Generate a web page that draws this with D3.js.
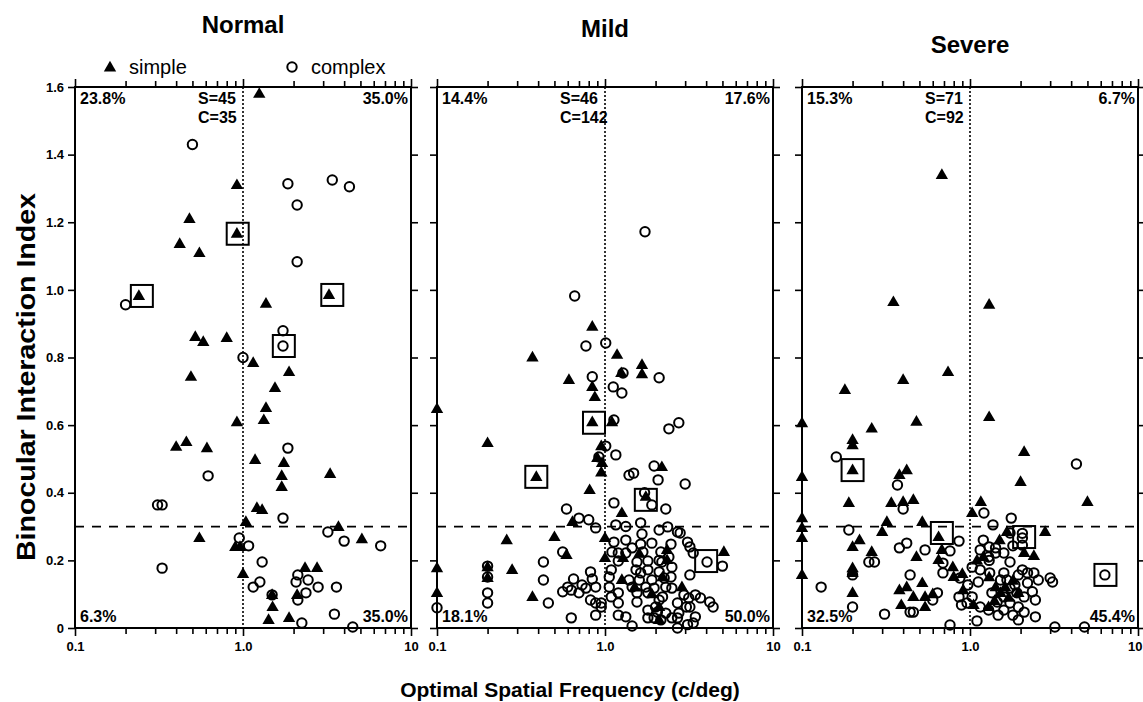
<!DOCTYPE html>
<html lang="en">
<head>
<meta charset="utf-8">
<title>Binocular interaction vs spatial frequency</title>
<script src="https://d3js.org/d3.v7.min.js"></script>
<style>
  body { margin: 0; background: #fff; }
  text { font-family: "Liberation Sans", Arial, Helvetica, sans-serif; }
</style>
</head>
<body>
<script>
// panel info
var panelTitles = ["Normal", "Mild", "Severe"];
var simpleCounts = ["S=45", "S=46", "S=71"];
var complexCounts = ["C=35", "C=142", "C=92"];
var pctTopLeft = ["23.8%", "14.4%", "15.3%"];
var pctTopRight = ["35.0%", "17.6%", "6.7%"];
var pctBottomLeft = ["6.3%", "18.1%", "32.5%"];
var pctBottomRight = ["35.0%", "50.0%", "45.4%"];

// axis ticks
var yTicks = [0, 0.2, 0.4, 0.6, 0.8, 1.0, 1.2, 1.4, 1.6];
var yTickLabels = ["0", "0.2", "0.4", "0.6", "0.8", "1.0", "1.2", "1.4", "1.6"];
var xMajorTicks = [0.1, 1, 10];
var xTickLabels = ["0.1", "1.0", "10"];
var xMinorTicks = [0.2, 0.3, 0.4, 0.5, 0.6, 0.7, 0.8, 0.9, 2, 3, 4, 5, 6, 7, 8, 9];

// [optimal SF (c/deg), binocular interaction index]
var normalSimple = [[1.25,1.58],[0.92,1.31],[0.48,1.21],[0.92,1.166],[0.42,1.136],[0.55,1.109],[0.24,0.982],[1.37,0.959],
  [3.25,0.985],[0.52,0.861],[0.58,0.846],[0.8,0.858],[1.15,0.784],[0.49,0.743],[1.88,0.757],[1.55,0.71],[1.37,0.651],
  [1.33,0.615],[0.92,0.609],[0.4,0.536],[0.46,0.55],[0.61,0.532],[1.18,0.497],[1.75,0.488],[3.3,0.456],[1.7,0.45],
  [1.7,0.417],[1.21,0.355],[1.3,0.349],[1.04,0.314],[3.7,0.299],[5.1,0.263],[0.55,0.266],[0.9,0.24],[0.96,0.24],
  [1.0,0.16],[2.34,0.178],[2.76,0.178],[2.1,0.098],[1.49,0.098],[1.5,0.062],[1.42,0.024],[1.88,0.03]];
var normalComplex = [[0.5,1.43],[1.85,1.314],[3.4,1.325],[4.3,1.305],[2.1,1.251],[2.1,1.083],[0.2,0.956],[1.73,0.879],
  [1.73,0.834],[1.0,0.80],[1.85,0.532],[0.62,0.45],[0.31,0.364],[0.33,0.364],[1.73,0.325],[3.2,0.284],[4.0,0.257],
  [6.6,0.243],[0.95,0.266],[1.08,0.243],[0.33,0.177],[1.3,0.195],[1.15,0.121],[1.26,0.136],[2.12,0.157],[2.07,0.136],
  [2.44,0.142],[2.37,0.104],[2.12,0.083],[2.8,0.121],[3.6,0.121],[1.49,0.098],[2.24,0.015],[3.5,0.041],[4.5,0.003]];
var normalBoxes = [[0.93,1.166],[0.25,0.982],[3.4,0.985],[1.75,0.834]];

var mildSimple = [[0.84,0.891],[1.18,0.808],[0.37,0.80],[1.66,0.778],[1.66,0.751],[0.61,0.734],[1.25,0.754],[0.84,0.713],
  [0.87,0.683],[0.1,0.648],[0.2,0.547],[0.84,0.609],[1.1,0.609],[0.95,0.538],[0.9,0.503],[0.96,0.488],[2.18,0.476],
  [0.39,0.447],[0.81,0.408],[1.75,0.388],[1.26,0.34],[0.64,0.314],[0.26,0.26],[0.5,0.269],[1.0,0.266],[0.59,0.216],
  [1.0,0.207],[1.28,0.207],[2.34,0.231],[2.34,0.201],[5.1,0.225],[0.1,0.177],[0.2,0.18],[0.2,0.148],[0.28,0.172],
  [0.1,0.104],[0.37,0.092],[2.87,0.121],[2.1,0.024],[1.26,0.142],[2.1,0.062],[1.6,0.22],[1.9,0.1],[2.2,0.15],
  [0.95,0.46],[1.5,0.12]];
var mildComplex = [[1.73,1.172],[0.66,0.982],[0.77,0.834],[1.01,0.843],
  [0.84,0.743],[1.28,0.754],[2.1,0.74],[1.12,0.713],[1.26,0.695],[1.13,0.615],[2.4,0.589],[2.75,0.607],
  [1.01,0.538],[1.16,0.512],[0.92,0.506],[1.96,0.479],[1.39,0.452],[1.48,0.458],[2.07,0.438],[3.0,0.426],
  [1.72,0.40],[1.13,0.37],[1.9,0.364],[2.3,0.352],[0.59,0.352],[0.7,0.325],[0.8,0.32],[0.88,0.296],[1.16,0.305],
  [1.63,0.311],[1.66,0.278],[2.1,0.29],[2.36,0.299],[2.7,0.284],[2.8,0.281],[3.1,0.254],[3.35,0.222],[4.05,0.195],
  [5.0,0.183],[1.33,0.26],[1.63,0.248],[2.47,0.248],[1.1,0.225],[1.33,0.222],[1.68,0.225],[0.56,0.225],[0.43,0.195],
  [1.2,0.198],[1.55,0.195],[1.8,0.198],[2.18,0.195],[3.2,0.157],
  [0.2,0.183],[0.2,0.151],[0.2,0.104],[0.2,0.074],[0.43,0.142],[0.65,0.145],[0.6,0.121],[0.56,0.107],[0.82,0.166],
  [0.84,0.145],[0.73,0.127],[0.77,0.118],[0.88,0.121],[1.06,0.151],[1.06,0.121],[1.2,0.104],[1.2,0.074],[1.39,0.142],
  [1.45,0.121],[1.55,0.104],[1.63,0.163],[1.75,0.121],[1.8,0.104],[1.9,0.142],[1.96,0.118],[2.25,0.148],[2.3,0.121],
  [2.47,0.151],[2.1,0.083],[2.0,0.062],[2.7,0.074],[2.75,0.044],[2.95,0.098],[3.2,0.062],[3.45,0.098],[3.7,0.089],
  [4.4,0.062],[0.95,0.074],[0.95,0.062],[0.88,0.038],[0.82,0.083],[0.46,0.074],[0.63,0.03],[1.2,0.038],[1.33,0.033],
  [1.45,0.006],[1.8,0.03],[1.96,0.03],[2.15,0.024],[2.7,0.03],[2.7,0.0],[3.1,0.01],[3.35,0.015],[3.45,0.033],
  [0.1,0.06],[2.1,0.2],[2.4,0.21],[1.33,0.3],[3.2,0.24],
  [1.13,0.254],[1.2,0.222],[1.45,0.237],[1.9,0.251],[2.15,0.225],[1.8,0.172],[2.1,0.166],[2.5,0.18],[1.09,0.172],
  [1.53,0.172],[1.6,0.142],[2.5,0.118],[2.2,0.092],[1.55,0.077],[1.8,0.053],[2.05,0.047],[2.3,0.044],[3.05,0.062],
  [2.5,0.03],[1.09,0.092],[0.7,0.104],[0.63,0.112],[0.88,0.074],[3.15,0.089],[4.2,0.077]];
var mildBoxes = [[0.86,0.607],[0.39,0.447],[1.75,0.379],[4.0,0.198]];

var severeSimple = [[0.68,1.34],[0.35,0.964],[1.3,0.956],[0.18,0.704],[0.4,0.734],[0.74,0.757],[0.1,0.606],[0.26,0.59],
  [0.48,0.61],[1.3,0.624],[0.2,0.556],[0.2,0.541],[2.1,0.521],[0.2,0.467],[0.1,0.447],[0.38,0.453],[0.42,0.467],
  [2.0,0.432],[0.19,0.37],[0.34,0.37],[0.4,0.373],[0.46,0.379],[1.16,0.373],[5.0,0.373],[0.1,0.325],[0.1,0.296],
  [0.1,0.266],[0.32,0.314],[0.52,0.314],[1.03,0.34],[0.3,0.284],[0.22,0.26],[0.2,0.24],[0.65,0.269],[0.68,0.231],
  [1.66,0.284],[2.8,0.284],[2.1,0.222],[2.4,0.213],[0.48,0.21],[0.65,0.201],[0.26,0.225],[0.2,0.177],[0.2,0.163],
  [0.1,0.157],[0.2,0.104],[0.79,0.18],[0.8,0.151],[0.38,0.112],[0.42,0.121],[0.46,0.092],[0.52,0.133],[0.54,0.092],
  [0.39,0.068],[0.54,0.062],[0.91,0.112],[1.05,0.068],[1.29,0.062],[1.42,0.121],[1.52,0.104],[1.62,0.121],
  [1.94,0.104],[1.2,0.21],[1.4,0.08],[1.7,0.09],[1.8,0.14],[1.1,0.2],[1.5,0.26],[0.9,0.16],[1.3,0.15],[0.6,0.1]];
var severeComplex = [[0.16,0.506],[4.3,0.485],[0.37,0.423],[0.4,0.352],[1.21,0.34],[0.19,0.29],[1.37,0.305],[1.76,0.325],
  [2.05,0.266],[2.05,0.245],[0.42,0.251],[0.38,0.237],[0.54,0.231],[0.76,0.228],[0.86,0.257],[0.25,0.195],[0.27,0.195],
  [1.2,0.26],[1.15,0.231],[1.3,0.24],[1.42,0.237],[1.29,0.21],[1.3,0.2],[1.03,0.18],[1.15,0.172],[1.73,0.195],
  [1.8,0.243],[0.69,0.163],[0.87,0.148],[0.97,0.127],[1.12,0.136],[1.94,0.157],[2.2,0.163],[2.4,0.163],[2.55,0.142],
  [3.1,0.136],[1.66,0.142],[1.73,0.118],[1.9,0.104],[2.1,0.092],[1.59,0.092],[1.45,0.077],[1.73,0.074],[1.94,0.062],
  [2.45,0.083],[1.47,0.038],[1.8,0.038],[1.94,0.024],[2.45,0.033],[0.44,0.157],[0.44,0.047],[0.46,0.047],[0.64,0.104],
  [0.6,0.083],[0.86,0.092],[0.89,0.068],[0.69,0.192],[0.13,0.121],[0.2,0.157],[0.2,0.062],[0.31,0.041],[0.76,0.009],
  [1.1,0.021],[3.2,0.003],[4.8,0.003],[6.35,0.157],[2.05,0.28],
  [1.31,0.163],[1.52,0.142],[1.59,0.163],[1.85,0.127],[2.2,0.133],[2.05,0.172],[2.35,0.107],[1.35,0.104],[1.29,0.053],
  [1.59,0.053],[2.1,0.047],[1.15,0.062],[1.42,0.222],[1.59,0.222],[1.73,0.281],[0.96,0.074],[1.03,0.092],[3.0,0.148]];
var severeBoxes = [[0.2,0.467],[0.68,0.281],[2.1,0.269],[6.4,0.157]];

var simpleData = [normalSimple, mildSimple, severeSimple];
var complexData = [normalComplex, mildComplex, severeComplex];
var boxData = [normalBoxes, mildBoxes, severeBoxes];

// layout
var w = 1143, h = 702;
var panelLeft = [75, 437, 802];
var pw = 336;
var plotTop = 87, plotBottom = 628;
var ph = plotBottom - plotTop;

var svg = d3.select("body").append("svg")
    .attr("width", w)
    .attr("height", h);

var x = d3.scaleLog().domain([0.1, 10]).range([0, pw]);
var y = d3.scaleLinear().domain([0, 1.6]).range([ph, 0]);

var tri = d3.symbol().type(d3.symbolTriangle).size(66);

panelTitles.forEach(function(title, p) {
  var g = svg.append("g")
      .attr("transform", "translate(" + panelLeft[p] + "," + plotTop + ")");

  // minor x ticks
  g.append("g").attr("transform", "translate(0," + ph + ")")
    .call(d3.axisBottom(x).tickValues(xMinorTicks).tickSize(6).tickSizeOuter(0).tickFormat(""));
  g.append("g")
    .call(d3.axisTop(x).tickValues(xMinorTicks).tickSize(6).tickSizeOuter(0).tickFormat(""));

  // major x ticks with labels on the bottom
  g.append("g").attr("class", "xlab").attr("transform", "translate(0," + ph + ")")
    .call(d3.axisBottom(x).tickValues(xMajorTicks).tickSize(8).tickSizeOuter(0).tickPadding(6)
      .tickFormat(function(d, i) { return xTickLabels[i]; }));
  g.append("g")
    .call(d3.axisTop(x).tickValues(xMajorTicks).tickSize(8).tickSizeOuter(0).tickFormat(""));

  // y ticks, labels only on the first panel
  var yl = d3.axisLeft(y).tickValues(yTicks).tickSize(7).tickSizeOuter(0).tickPadding(4);
  if (p == 0) {
    yl.tickFormat(function(d, i) { return yTickLabels[i]; });
  } else {
    yl.tickFormat("");
  }
  g.append("g").attr("class", "ylab").call(yl);
  g.append("g").attr("transform", "translate(" + pw + ",0)")
    .call(d3.axisRight(y).tickValues(yTicks).tickSize(7).tickSizeOuter(0).tickFormat(""));

  g.selectAll(".domain").remove();
  g.selectAll(".tick line").attr("stroke", "#000").attr("stroke-width", 1.6);
  g.selectAll(".xlab text").attr("font-size", "13px").attr("font-weight", "bold").attr("fill", "#000");
  g.selectAll(".ylab text").attr("font-size", "13px").attr("font-weight", "bold").attr("fill", "#000");
  // last panel: keep the "10" label inside the page
  if (p == 2) {
    g.selectAll(".xlab .tick text").filter(function(d) { return d == 10; })
      .attr("text-anchor", "end").attr("dx", "4px");
  }

  // frame
  g.append("rect")
    .attr("x", 0).attr("y", 0)
    .attr("width", pw).attr("height", ph)
    .attr("fill", "none")
    .attr("stroke", "#000")
    .attr("stroke-width", 2);

  // reference lines
  g.append("line")
    .attr("x1", x(1)).attr("x2", x(1))
    .attr("y1", 0).attr("y2", ph)
    .attr("stroke", "#000").attr("stroke-width", 1.6)
    .attr("stroke-dasharray", "2,2");
  g.append("line")
    .attr("x1", 0).attr("x2", pw)
    .attr("y1", y(0.3)).attr("y2", y(0.3))
    .attr("stroke", "#000").attr("stroke-width", 1.8)
    .attr("stroke-dasharray", "9,8");

  // boxes around example cells
  g.selectAll("rect.box")
    .data(boxData[p])
    .enter()
    .append("rect")
    .attr("class", "box")
    .attr("x", function(d) { return x(d[0]) - 11; })
    .attr("y", function(d) { return y(d[1]) - 11; })
    .attr("width", 22).attr("height", 22)
    .attr("fill", "none")
    .attr("stroke", "#000")
    .attr("stroke-width", 2);

  // complex cells
  g.selectAll("circle.cx")
    .data(complexData[p])
    .enter()
    .append("circle")
    .attr("class", "cx")
    .attr("cx", function(d) { return x(d[0]); })
    .attr("cy", function(d) { return y(d[1]); })
    .attr("r", 4.7)
    .attr("fill", "none")
    .attr("stroke", "#000")
    .attr("stroke-width", 2);

  // simple cells
  g.selectAll("path.sp")
    .data(simpleData[p])
    .enter()
    .append("path")
    .attr("class", "sp")
    .attr("d", tri)
    .attr("transform", function(d) { return "translate(" + x(d[0]) + "," + (y(d[1]) + 0.5) + ")"; })
    .attr("fill", "#000");

  // corner labels
  var lab = g.append("g").attr("font-size", "16px").attr("font-weight", "bold").attr("fill", "#000");
  lab.append("text").attr("x", 5).attr("y", 17).text(pctTopLeft[p]);
  lab.append("text").attr("x", pw - 3).attr("y", 17).attr("text-anchor", "end").text(pctTopRight[p]);
  lab.append("text").attr("x", 5).attr("y", ph - 6).text(pctBottomLeft[p]);
  lab.append("text").attr("x", pw - 3).attr("y", ph - 6).attr("text-anchor", "end").text(pctBottomRight[p]);
  lab.append("text").attr("x", x(1) - 45).attr("y", 17).text(simpleCounts[p]);
  lab.append("text").attr("x", x(1) - 45).attr("y", 36).text(complexCounts[p]);
});

// panel titles
var titleY = [33, 37, 53];
svg.selectAll("text.title")
  .data(panelTitles)
  .enter()
  .append("text")
  .attr("class", "title")
  .attr("x", function(d, i) { return panelLeft[i] + x(1); })
  .attr("y", function(d, i) { return titleY[i]; })
  .attr("text-anchor", "middle")
  .attr("font-size", "24px")
  .attr("font-weight", "bold")
  .text(function(d) { return d; });

// legend
svg.append("path").attr("d", tri).attr("transform", "translate(110,68)").attr("fill", "#000");
svg.append("text").attr("x", 129).attr("y", 74).attr("font-size", "20px").text("simple");
svg.append("circle").attr("cx", 292).attr("cy", 67).attr("r", 4.7)
  .attr("fill", "none").attr("stroke", "#000").attr("stroke-width", 2);
svg.append("text").attr("x", 311).attr("y", 74).attr("font-size", "20px").text("complex");

// axis titles
svg.append("text")
  .attr("x", 570).attr("y", 697)
  .attr("text-anchor", "middle")
  .attr("font-size", "21px")
  .attr("font-weight", "bold")
  .text("Optimal Spatial Frequency (c/deg)");
svg.append("text")
  .attr("transform", "translate(35,377) rotate(-90)")
  .attr("text-anchor", "middle")
  .attr("font-size", "25px")
  .attr("font-weight", "bold")
  .attr("textLength", 368)
  .attr("lengthAdjust", "spacingAndGlyphs")
  .text("Binocular Interaction Index");
</script>
</body>
</html>
